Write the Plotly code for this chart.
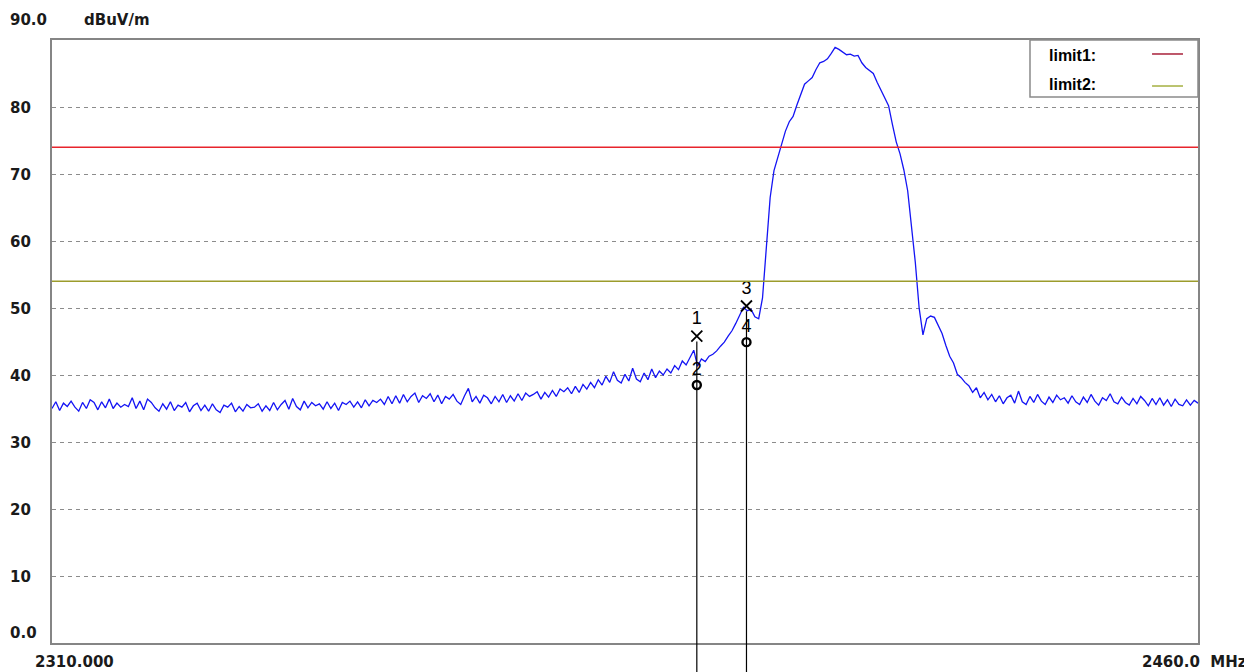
import plotly.graph_objects as go

# sweep: 2310 .. 2460 MHz, 0.5 MHz step
start_mhz = 2310.0
stop_mhz = 2460.0
step_mhz = 0.5

level = [
    35.0, 36.0, 34.7, 35.8, 35.3, 36.1, 35.2, 34.6, 35.9, 35.0, 36.3, 35.9, 34.8, 36.0, 35.1, 36.4, 35.0, 35.8, 35.2, 35.6,
    35.3, 36.6, 35.0, 36.1, 34.8, 36.4, 35.9, 35.1, 34.6, 35.7, 34.9, 36.0, 34.7, 35.5, 35.2, 35.9, 34.5, 35.4, 35.8, 34.7,
    35.5, 34.6, 35.7, 34.8, 34.4, 35.5, 35.2, 35.8, 34.5, 35.3, 34.6, 35.6, 35.1, 35.2, 35.7, 34.6, 35.4, 34.7, 35.9, 34.8,
    35.6, 36.2, 34.9, 36.5, 35.3, 34.8, 36.1, 35.1, 35.9, 35.4, 35.7, 34.9, 36.0, 35.0, 35.8, 34.7, 35.9, 35.6, 36.1, 35.2,
    36.0, 35.1, 36.3, 35.4, 36.2, 35.9, 36.4, 35.6, 36.8, 35.7, 36.9, 35.8, 37.1, 36.0, 36.8, 37.3, 35.9, 36.9, 36.5, 37.2,
    36.0, 37.0, 35.7, 36.8, 36.4, 37.1, 36.1, 35.6, 36.9, 38.0, 36.0, 36.8, 35.8, 37.0, 36.6, 35.7, 36.8, 36.0, 37.1, 35.9,
    36.9, 36.1, 37.2, 36.2, 37.3, 36.8, 37.1, 37.5, 36.4, 37.4, 36.7, 37.7, 36.8, 37.9, 37.5, 38.1, 37.2, 38.3, 37.4, 38.6,
    37.9, 38.9, 38.1, 39.3, 38.5, 39.8, 38.9, 40.5, 39.2, 38.8, 40.1, 39.1, 41.0, 39.4, 39.0, 40.3, 39.3, 40.9, 39.6, 40.6,
    40.0, 40.9, 40.3, 41.4, 40.8, 42.1, 41.5, 42.6, 43.7, 41.3, 42.4, 42.0, 42.8, 43.1, 43.6, 44.3, 44.9, 45.8, 46.6, 47.7,
    48.9, 50.1, 49.6, 49.8, 48.7, 48.4, 51.5, 59.0, 66.5, 70.5, 72.5, 74.2, 76.4, 77.8, 78.6, 80.3, 81.8, 83.4, 83.9, 84.4,
    85.6, 86.6, 86.8, 87.2, 88.0, 88.9, 88.6, 88.2, 87.8, 87.9, 87.6, 87.7, 86.6, 85.9, 85.5, 85.0, 83.7, 82.5, 81.4, 80.2,
    77.4, 74.8, 73.0, 70.6, 67.5, 62.0, 56.8, 50.0, 46.0, 48.4, 48.8, 48.6, 47.5, 46.2, 44.4, 42.8, 41.8, 40.1, 39.6, 38.9,
    38.4, 37.4, 38.1, 36.6, 37.4, 36.3, 37.1, 36.0, 36.9, 35.7, 36.6, 37.0, 35.8, 37.6, 36.0, 35.6, 36.8, 35.9, 37.1, 36.1,
    35.6, 36.7, 35.9, 37.0, 36.3, 36.6, 35.8, 36.9, 36.0, 35.6, 36.7, 35.9, 37.1, 36.1, 35.5, 36.6, 36.2, 37.2, 36.0, 35.7,
    36.7, 35.9, 35.5, 36.5, 35.7, 36.8, 36.2, 35.4, 36.5, 35.6, 36.6, 35.5, 36.3, 35.3, 36.4, 35.6, 35.4, 36.3, 35.5, 36.2, 35.8,
]
freq = [start_mhz + step_mhz * i for i in range(len(level))]

limit1 = 74.0
limit2 = 54.0

# markers: 1/3 peak (x), 2/4 average (o)
mk_label = ['1', '2', '3', '4']
mk_freq = [2394.4, 2394.4, 2400.9, 2400.9]
mk_level = [45.8, 38.5, 50.3, 44.9]

y_ticks = [10, 20, 30, 40, 50, 60, 70, 80]

BOLD = 'DejaVu Sans'
TXT = '#1a1a1a'
LX = -0.0384  # left edge of the y labels (paper)

fig = go.Figure()

fig.add_trace(go.Scatter(
    x=freq, y=level, mode='lines',
    line=dict(color='#1414f4', width=1.3),
    showlegend=False, hoverinfo='skip',
))

# limit lines
fig.add_hline(y=limit1, line=dict(color='#e8242c', width=1.6))
fig.add_hline(y=limit2, line=dict(color='#9c9c2c', width=1.6))

# marker stems, running below the frame
for f, lv in ((mk_freq[0], mk_level[0]), (mk_freq[2], mk_level[2])):
    fig.add_shape(type='line', xref='x', yref='y', x0=f, x1=f, y0=lv - 0.8, y1=0,
                  line=dict(color='black', width=1.2))
    fig.add_shape(type='line', xref='x', yref='paper', x0=f, x1=f, y0=0, y1=-0.06,
                  line=dict(color='black', width=1.2))

pk = [0, 2]
av = [1, 3]
MF = dict(family='Liberation Sans', size=18, color='black')
fig.add_trace(go.Scatter(
    x=[mk_freq[i] for i in pk], y=[mk_level[i] for i in pk],
    mode='markers+text', text=[mk_label[i] for i in pk], textposition='top center',
    textfont=MF,
    marker=dict(symbol='x-thin-open', size=11, color='black', line=dict(color='black', width=1.8)),
    showlegend=False, hoverinfo='skip', cliponaxis=False,
))
fig.add_trace(go.Scatter(
    x=[mk_freq[i] for i in av], y=[mk_level[i] for i in av],
    mode='markers+text', text=[mk_label[i] for i in av], textposition='top center',
    textfont=MF,
    marker=dict(symbol='circle-open', size=8, color='black', line=dict(color='black', width=2.4)),
    showlegend=False, hoverinfo='skip', cliponaxis=False,
))

# y tick labels, left aligned like the analyser printout
for t in y_ticks:
    fig.add_annotation(x=LX, xref='paper', y=t, yref='y', text=f'<b>{t}</b>',
                       xanchor='left', yanchor='middle', showarrow=False, yshift=-1,
                       font=dict(family=BOLD, size=15, color=TXT))
fig.add_annotation(x=LX, xref='paper', y=0, yref='y', text='<b>0.0</b>',
                   xanchor='left', yanchor='middle', showarrow=False, yshift=10,
                   font=dict(family=BOLD, size=15, color=TXT))
fig.add_annotation(x=LX, xref='paper', y=90, yref='y', text='<b>90.0</b>',
                   xanchor='left', yanchor='middle', showarrow=False, yshift=20,
                   font=dict(family=BOLD, size=15, color=TXT))
fig.add_annotation(x=0.0262, xref='paper', y=90, yref='y', text='<b>dBuV/m</b>',
                   xanchor='left', yanchor='middle', showarrow=False, yshift=20,
                   font=dict(family=BOLD, size=15, color=TXT))
fig.add_annotation(x=start_mhz, xref='x', y=0, yref='paper', text=f'<b>{start_mhz:.3f}</b>',
                   xanchor='center', yanchor='middle', showarrow=False, yshift=-19, xshift=22,
                   font=dict(family=BOLD, size=15, color=TXT))
fig.add_annotation(x=stop_mhz, xref='x', y=0, yref='paper',
                   text=f'<b>{stop_mhz:.1f}&nbsp;&nbsp;MHz</b>',
                   xanchor='left', yanchor='middle', showarrow=False, yshift=-19, xshift=-58,
                   font=dict(family=BOLD, size=15, color=TXT))

# legend box
LF = dict(family='Liberation Sans Narrow, Liberation Sans', size=16, color='black')
fig.add_shape(type='rect', xref='paper', yref='paper', x0=0.8534, x1=1.0, y0=0.9055, y1=1.0,
              line=dict(color='#8a8a8a', width=1.5), fillcolor='white')
fig.add_annotation(x=0.8682, xref='paper', y=0.975, yref='paper', text='<b>limit1:</b>',
                   xanchor='left', yanchor='middle', showarrow=False, font=LF)
fig.add_annotation(x=0.8682, xref='paper', y=0.927, yref='paper', text='<b>limit2:</b>',
                   xanchor='left', yanchor='middle', showarrow=False, font=LF)
fig.add_shape(type='line', xref='paper', yref='paper', x0=0.9599, x1=0.9869, y0=0.9768, y1=0.9768,
              line=dict(color='#a8203a', width=1.5))
fig.add_shape(type='line', xref='paper', yref='paper', x0=0.9599, x1=0.9869, y0=0.9237, y1=0.9237,
              line=dict(color='#a4b040', width=1.5))

# page body has an 8px margin, so the figure is 8px smaller on each side
fig.update_layout(
    width=1244, height=664,
    margin=dict(l=44, r=54, t=32, b=29),
    paper_bgcolor='white',
    plot_bgcolor='white',
    showlegend=False,
    xaxis=dict(range=[start_mhz, stop_mhz], showgrid=False, zeroline=False,
               showticklabels=False, ticks='', showline=True, mirror=True,
               linecolor='#858585', linewidth=2),
    yaxis=dict(range=[0, 90], tickvals=y_ticks, showticklabels=False, ticks='',
               showgrid=True, gridcolor='#8c8c8c', griddash='4px,4px', gridwidth=1,
               zeroline=False, showline=True, mirror=True,
               linecolor='#858585', linewidth=2),
)

fig.write_html("out.html")
